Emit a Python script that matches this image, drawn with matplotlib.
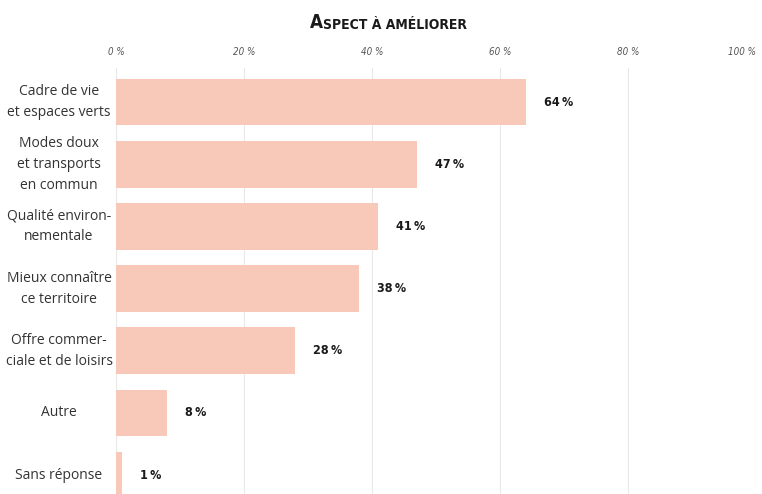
import os
import matplotlib
matplotlib.use("Agg")
import matplotlib.pyplot as plt
from matplotlib import font_manager
from matplotlib.font_manager import FontProperties

categories = ["Cadre de vie\net espaces verts", "Modes doux\net transports\nen commun",
              "Qualité environ-\nnementale", "Mieux connaître\nce territoire",
              "Offre commer-\nciale et de loisirs", "Autre", "Sans réponse"]
values = [64, 47, 41, 38, 28, 8, 1]
ticks = [0, 20, 40, 60, 80, 100]
tick_labels = ["0 %", "20 %", "40 %", "60 %", "80 %", "100 %"]

files = [f.fname for f in font_manager.fontManager.ttflist]


def pick(keys, fallback_weight, fallback_style="normal"):
    for k in keys:
        for f in files:
            if os.path.basename(f).lower() == k.lower():
                return dict(fname=f)
    return dict(family="DejaVu Sans", weight=fallback_weight, style=fallback_style)


bold_c = pick(["LiberationSansNarrow-Bold.ttf", "DejaVuSansCondensed-Bold.ttf",
               "RobotoCondensed-Bold.ttf", "NotoSans-CondensedBold.ttf",
               "OpenSans_Condensed-Bold.ttf", "OpenSans-CondensedBold.ttf"], "bold")
ital_c = pick(["LiberationSansNarrow-Italic.ttf", "DejaVuSansCondensed-Oblique.ttf",
               "RobotoCondensed-Italic.ttf", "NotoSans-CondensedItalic.ttf",
               "OpenSans_Condensed-Italic.ttf"], "normal", "italic")


def fp(spec, size):
    return FontProperties(size=size, **spec)


names = {f.name for f in font_manager.fontManager.ttflist}
reg = "Open Sans" if "Open Sans" in names else "DejaVu Sans"

fig = plt.figure(figsize=(7.62, 4.94), dpi=100)
W, H = 762, 494
ax = fig.add_axes([116 / W, 0, 640 / W, 1 - 68 / H])

y = list(range(len(values)))
ax.barh(y, values, height=0.75, color="#F8C9B8", zorder=2)
ax.set_xlim(0, 100)
ax.set_ylim(6.305, -0.55)
ax.set_xticks(ticks)
ax.set_xticklabels(tick_labels)
ax.xaxis.tick_top()
ax.tick_params(axis="x", length=0, pad=8)
ax.grid(axis="x", color="#e8e8e8", linewidth=0.8, zorder=0)
ax.set_yticks([])
for s in ax.spines.values():
    s.set_visible(False)
tl = ax.get_xticklabels()
for lbl in tl:
    lbl.set_fontproperties(fp(ital_c, 7))
    lbl.set_color("#555555")
    lbl.set_clip_on(False)
tl[-1].set_horizontalalignment("right")
tl[-1].set_x(99.2)

for yi, v in zip(y, values):
    ax.annotate(f"{v}\u2009%", xy=(v, yi), xytext=(13, 0), textcoords="offset points",
                va="center", ha="left", fontproperties=fp(bold_c, 9),
                color="#1a1a1a")

for yi, c in zip(y, categories):
    ax.text(-8.9, yi, c, ha="center", va="center",
            fontsize=10, family=reg, color="#333333", linespacing=1.55)

t1 = fig.text(310 / W, 1 - 28 / H, "A", fontproperties=fp(bold_c, 13.5),
              color="#1a1a1a", ha="left", va="baseline")
fig.canvas.draw()
ax.annotate("SPECT À AMÉLIORER", xy=(1, 0), xycoords=t1, xytext=(0.2, 0),
            textcoords="offset points", fontproperties=fp(bold_c, 10),
            color="#1a1a1a", ha="left", va="bottom", annotation_clip=False)

fig.savefig("out.png", dpi=100)
